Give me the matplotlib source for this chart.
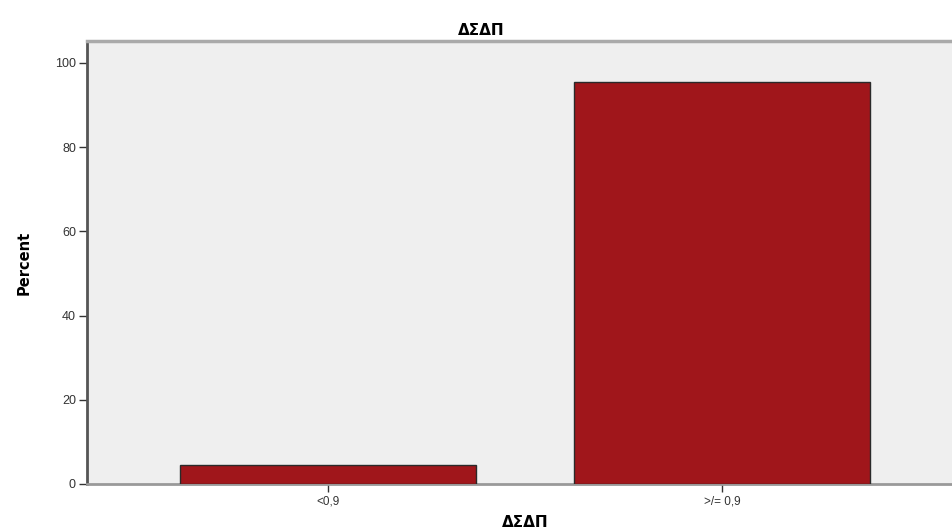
import matplotlib.pyplot as plt
import numpy as np

categories = ['<0,9', '>/= 0,9']
percent = [4.6, 95.4]
yticks = [0, 20, 40, 60, 80, 100]

fig = plt.figure(figsize=(9.52, 5.32), dpi=100)
ax = fig.add_axes([87/952, 48/532, 876/952, 443/532])
ax.set_facecolor('#efefef')

x = np.arange(len(categories))
ax.bar(x, percent, width=0.75, color='#a0161b', edgecolor='#2a2a2a', linewidth=1.0, zorder=3)

ax.set_xlim(-0.612, 1.612)
ax.set_ylim(0, 105.2)
ax.set_xticks(x)
ax.set_xticklabels(categories, fontsize=8.5, color='#333333', family=['Liberation Sans', 'DejaVu Sans'])
ax.set_yticks(yticks)
ax.set_yticklabels([str(v) for v in yticks], fontsize=9, color='#333333', family=['Liberation Sans', 'DejaVu Sans'])
ax.tick_params(direction='out', length=6, width=1, color='#333333', pad=2)

ax.spines['left'].set_color('#555555')
ax.spines['left'].set_linewidth(2)
ax.spines['bottom'].set_color('#999999')
ax.spines['bottom'].set_linewidth(2)
ax.spines['top'].set_color('#aaaaaa')
ax.spines['top'].set_linewidth(2.5)
ax.spines['right'].set_visible(False)

ax.set_xlabel('ΔΣΔΠ', fontsize=11, fontweight='bold', labelpad=6)
ax.set_ylabel('Percent', fontsize=10.5, fontweight='bold', labelpad=17)
fig.text(0.505, 0.943, 'ΔΣΔΠ', fontsize=11, fontweight='bold', ha='center', va='center')

fig.savefig('out.png', dpi=100)
